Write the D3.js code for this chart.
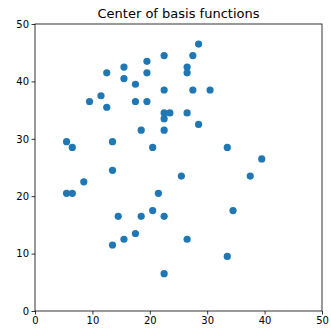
<!DOCTYPE html>
<html>
<head>
<meta charset="utf-8">
<script src="https://cdn.jsdelivr.net/npm/d3@7"></script>
<style>
  body { margin: 0; background: #fff; }
  svg text { font-family: "DejaVu Sans", sans-serif; }
</style>
</head>
<body>
<script>
// centers
var xs = [28.5, 27.5, 22.5, 15.5, 26.5, 12.5, 19.5, 19.5, 26.5, 15.5,
          17.5, 22.5, 27.5, 30.5, 11.5, 9.5, 17.5, 19.5, 12.5, 22.5,
          23.5, 26.5, 22.5, 28.5, 18.5, 22.5, 5.5, 6.5, 13.5, 20.5,
          33.5, 39.5, 13.5, 25.5, 37.5, 8.5, 5.5, 6.5, 21.5, 34.5,
          20.5, 14.5, 18.5, 22.5, 17.5, 15.5, 26.5, 13.5, 33.5, 22.5];
var ys = [46.5, 44.5, 44.5, 42.5, 42.5, 41.5, 43.5, 41.5, 41.5, 40.5,
          39.5, 38.5, 38.5, 38.5, 37.5, 36.5, 36.5, 36.5, 35.5, 34.5,
          34.5, 34.5, 33.5, 32.5, 31.5, 31.5, 29.5, 28.5, 29.5, 28.5,
          28.5, 26.5, 24.5, 23.5, 23.5, 22.5, 20.5, 20.5, 20.5, 17.5,
          17.5, 16.5, 16.5, 16.5, 13.5, 12.5, 12.5, 11.5, 9.5, 6.5];
var ticks = [0, 10, 20, 30, 40, 50];
var title = "Center of basis functions";

var w = 331, h = 332;
// plot box (note: "top" is taken by window.top)
var padL = 35, padR = 322, padT = 24, padB = 311;

var svg = d3.select("body").append("svg")
  .attr("width", w)
  .attr("height", h);

var x = d3.scaleLinear().domain([0, 50]).range([padL, padR]);
var y = d3.scaleLinear().domain([0, 50]).range([padB, padT]);

var pts = xs.map(function(d, i) { return [d, ys[i]]; });

svg.selectAll(".dot")
  .data(pts)
  .enter()
  .append("circle")
  .attr("class", "dot")
  .attr("cx", function(d) { return x(d[0]); })
  .attr("cy", function(d) { return y(d[1]); })
  .attr("r", 3.6)
  .attr("fill", "#1f77b4");

var xAxis = d3.axisBottom(x).tickValues(ticks).tickSize(3.5).tickPadding(2.5).tickSizeOuter(0);
var yAxis = d3.axisLeft(y).tickValues(ticks).tickSize(3.5).tickPadding(2.5).tickSizeOuter(0);

var gx = svg.append("g")
  .attr("transform", "translate(0," + padB + ")")
  .call(xAxis);
var gy = svg.append("g")
  .attr("transform", "translate(" + padL + ",0)")
  .call(yAxis);

[gx, gy].forEach(function(g) {
  g.select(".domain").remove();
  g.selectAll("line").attr("stroke", "#000").attr("stroke-width", 0.8);
  g.selectAll("text").attr("font-size", 10).attr("fill", "#000")
    .style("font-family", "DejaVu Sans, sans-serif");
});

// frame
svg.append("rect")
  .attr("x", padL)
  .attr("y", padT)
  .attr("width", padR - padL)
  .attr("height", padB - padT)
  .attr("fill", "none")
  .attr("stroke", "#000")
  .attr("stroke-width", 0.8);

svg.append("text")
  .attr("x", (padL + padR) / 2)
  .attr("y", 18)
  .attr("text-anchor", "middle")
  .attr("font-size", 13)
  .text(title);
</script>
</body>
</html>
